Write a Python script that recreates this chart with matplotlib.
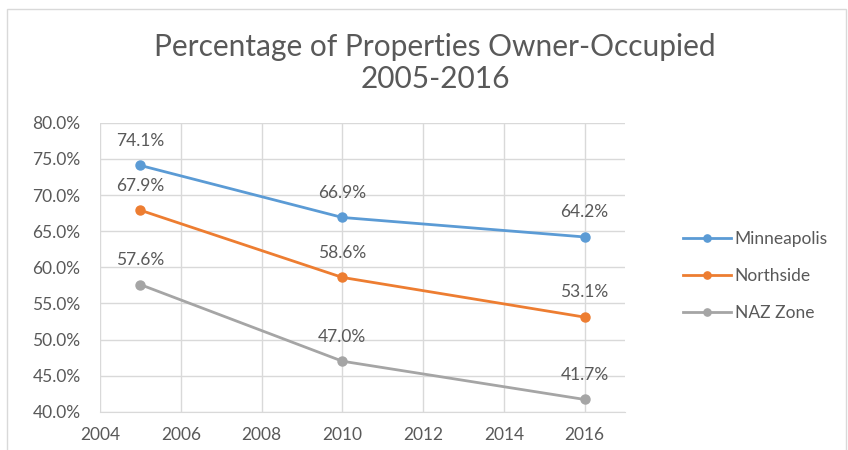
import matplotlib.pyplot as plt
from matplotlib.patches import Rectangle
from matplotlib.ticker import FuncFormatter

years = [2005, 2010, 2016]
series_names = ['Minneapolis', 'Northside', 'NAZ Zone']
minneapolis = [74.1, 66.9, 64.2]
northside = [67.9, 58.6, 53.1]
naz_zone = [57.6, 47.0, 41.7]
colors = ['#5B9BD5', '#ED7D31', '#A5A5A5']

x_ticks = [2004, 2006, 2008, 2010, 2012, 2014, 2016]
y_ticks = [40, 45, 50, 55, 60, 65, 70, 75, 80]

plt.rcParams['font.family'] = ['Lato', 'DejaVu Sans']
text_color = '#595959'


def plot_chart():
    fig = plt.figure(figsize=(8.48, 4.5), dpi=100)
    ax = fig.add_axes([0.118, 0.085, 0.619, 0.642])

    # light frame round the whole chart
    fig.patches.append(Rectangle((0.008, -0.05), 0.99, 1.03, transform=fig.transFigure,
                                 fill=False, edgecolor='#D9D9D9', linewidth=1))

    for name, values, color in zip(series_names, [minneapolis, northside, naz_zone], colors):
        ax.plot(years, values, color=color, linewidth=2, marker='o', markersize=6.5, label=name)
        for x, y in zip(years, values):
            ax.annotate(f'{y:.1f}%', (x, y), xytext=(0, 12), textcoords='offset points',
                        ha='center', va='bottom', fontsize=12.5, color=text_color)

    ax.set_xlim(2004, 2017)
    ax.set_ylim(40, 80)
    ax.set_xticks(x_ticks)
    ax.set_yticks(y_ticks)
    ax.yaxis.set_major_formatter(FuncFormatter(lambda v, p: f'{v:.1f}%'))
    ax.tick_params(axis='y', length=0, labelsize=12.5, labelcolor=text_color, pad=14)
    ax.tick_params(axis='x', length=0, labelsize=12.5, labelcolor=text_color, pad=11)

    ax.grid(True, color='#D9D9D9', linewidth=1)
    ax.set_axisbelow(True)
    for side in ['top', 'right', 'left']:
        ax.spines[side].set_visible(False)
    ax.spines['bottom'].set_color('#D9D9D9')

    fig.text(0.513, 0.86, 'Percentage of Properties Owner-Occupied\n2005-2016',
             ha='center', va='center', fontsize=21.5, color=text_color, linespacing=1.2)

    ax.legend(loc='center left', bbox_to_anchor=(1.08, 0.47), frameon=False,
              fontsize=12.5, labelcolor=text_color, handlelength=2.8, handletextpad=0.2,
              labelspacing=1.2, markerscale=0.8)

    plt.savefig('out.png', dpi=100)


if __name__ == '__main__':
    plot_chart()
